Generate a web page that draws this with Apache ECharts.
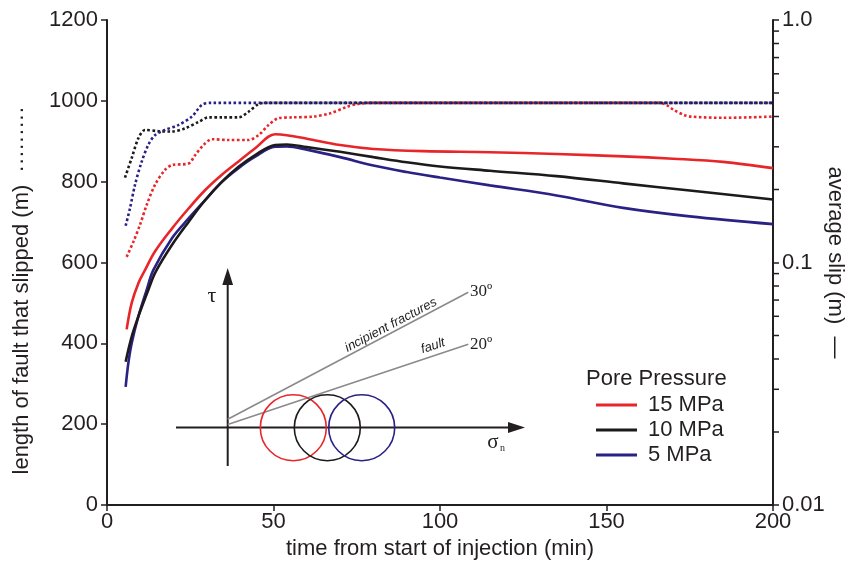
<!DOCTYPE html>
<html>
<head>
<meta charset="utf-8">
<script src="https://cdn.jsdelivr.net/npm/echarts@6/dist/echarts.min.js"></script>
<style>html,body{margin:0;padding:0;background:#fff}#c{width:850px;height:564px}</style>
</head>
<body>
<div id="c"></div>
<script>
// ---- data (time in minutes) ----
const xTicks = [0, 50, 100, 150, 200];
const lengthTicks = [0, 200, 400, 600, 800, 1000, 1200];
const slipMinorTicks = [0.02,0.03,0.04,0.05,0.06,0.07,0.08,0.09,0.2,0.3,0.4,0.5,0.6,0.7,0.8,0.9];

// average slip (m), solid curves
const slipT15 = [5.9, 7.4, 9.4, 11.4, 14.4, 19.5, 24.5, 29.5, 34.5, 39.5, 44.5, 50.5, 54, 60, 70, 80, 95, 115, 135, 155, 170, 185, 200];
const slip15  = [0.053, 0.068, 0.082, 0.093, 0.111, 0.138, 0.167, 0.199, 0.230, 0.261, 0.296, 0.338, 0.335, 0.324, 0.305, 0.294, 0.288, 0.285, 0.280, 0.274, 0.268, 0.260, 0.245];
const slipT10 = [5.6, 7.4, 9.4, 12.4, 14.6, 19.5, 24.5, 29.5, 34.5, 39.5, 44.5, 50.5, 54, 60, 70, 80, 90, 100, 115, 135, 155, 175, 200];
const slip10  = [0.039, 0.0494, 0.0598, 0.077, 0.0914, 0.118, 0.147, 0.181, 0.215, 0.248, 0.2775, 0.305, 0.3066, 0.299, 0.286, 0.272, 0.259, 0.249, 0.239, 0.227, 0.212, 0.198, 0.182];
const slipT5  = [5.6, 6.4, 7.4, 9.4, 11.9, 13.9, 19.5, 24.5, 29.5, 34.5, 39.5, 44.5, 50.5, 54, 60, 70, 80, 90, 100, 115, 135, 155, 175, 200];
const slip5   = [0.0307, 0.0384, 0.0464, 0.0598, 0.077, 0.093, 0.126, 0.152, 0.181, 0.215, 0.245, 0.273, 0.300, 0.301, 0.292, 0.272, 0.251, 0.236, 0.224, 0.208, 0.189, 0.168, 0.155, 0.144];

// length of fault that slipped (m), dotted curves
const lenT15 = [5.9, 7.9, 9.9, 11.9, 14.4, 17.4, 19.5, 24.5, 26.5, 29, 31.5, 36.5, 42.5, 45.5, 48.5, 51.5, 55.5, 62, 67, 72, 75, 80, 166, 168, 170.3, 173.3, 175.3, 185, 200];
const len15  = [614, 651, 693, 742, 792, 829, 841, 845, 866, 891, 905, 903, 903, 915, 940, 957, 959, 961, 969, 985, 992, 995, 995, 990, 977, 965, 961, 958, 961];
const lenT10 = [5.4, 7.4, 9.4, 11.4, 15.4, 19.5, 23.5, 27.5, 30.5, 34.5, 39.5, 42.5, 45.5, 48, 200];
const len10  = [810, 858, 907, 928, 925, 924, 932, 948, 959, 959, 959, 973, 992, 995, 995];
const lenT5  = [5.6, 6.9, 8.4, 10.4, 12.4, 14.4, 17.4, 21.4, 25.5, 28.5, 31, 200];
const len5   = [691, 734, 792, 849, 891, 915, 928, 940, 961, 990, 995, 995];

const names = ['15 MPa', '10 MPa', '5 MPa'];
const colors = ['#e8262a', '#1c1a1b', '#2a2185'];

const zip = (a, b) => a.map((t, i) => [t, b[i]]);
const FONT = 'Liberation Sans, Arial, sans-serif';
const SERIF = 'Liberation Serif, DejaVu Serif, serif';
const AX = '#231f20';
const FS = 22;

const slipSets = [zip(slipT15, slip15), zip(slipT10, slip10), zip(slipT5, slip5)];
const lenSets = [zip(lenT15, len15), zip(lenT10, len10), zip(lenT5, len5)];

const series = [];
lenSets.forEach((d, i) => series.push({
  name: names[i] + ' length', type: 'line', xAxisIndex: 0, yAxisIndex: 0, data: d,
  showSymbol: false, smooth: 0.3,
  lineStyle: { color: colors[i], width: 2.6, type: [2.6, 2.4] }, z: 3
}));
slipSets.forEach((d, i) => series.unshift({
  name: names[i], type: 'line', xAxisIndex: 0, yAxisIndex: 1, data: d,
  showSymbol: false, smooth: 0.35, color: colors[i],
  lineStyle: { color: colors[i], width: 2.6 }, z: 4
}));
series.push({
  type: 'custom', xAxisIndex: 0, yAxisIndex: 1, silent: true, clip: false,
  data: slipMinorTicks.map(v => [xTicks[xTicks.length - 1], v]),
  renderItem: (params, api) => {
    const p = api.coord([api.value(0), api.value(1)]);
    return { type: 'line', shape: { x1: p[0], y1: p[1], x2: p[0] + 6, y2: p[1] },
             style: { stroke: AX, lineWidth: 1.5 } };
  }
});

// inset schematic (Mohr diagram)
const gray = '#8a8a8a';
const graphic = [
  { type: 'line', shape: { x1: 227.7, y1: 282, x2: 227.7, y2: 466 }, style: { stroke: AX, lineWidth: 2 } },
  { type: 'polygon', shape: { points: [[227.7, 268], [222.3, 285], [233.1, 285]] }, style: { fill: AX } },
  { type: 'line', shape: { x1: 176, y1: 427.5, x2: 510, y2: 427.5 }, style: { stroke: AX, lineWidth: 2 } },
  { type: 'polygon', shape: { points: [[525, 427.5], [508, 422], [508, 433]] }, style: { fill: AX } },
  { type: 'line', shape: { x1: 227.7, y1: 419.3, x2: 468.3, y2: 292.3 }, style: { stroke: gray, lineWidth: 1.6 } },
  { type: 'line', shape: { x1: 227.7, y1: 424.5, x2: 468.3, y2: 344.3 }, style: { stroke: gray, lineWidth: 1.6 } },
  { type: 'circle', shape: { cx: 293.3, cy: 427.7, r: 33 }, style: { stroke: colors[0], fill: null, lineWidth: 1.6 } },
  { type: 'circle', shape: { cx: 327.3, cy: 427.7, r: 33 }, style: { stroke: colors[1], fill: null, lineWidth: 1.6 } },
  { type: 'circle', shape: { cx: 361.7, cy: 427.7, r: 33 }, style: { stroke: colors[2], fill: null, lineWidth: 1.6 } },
  { type: 'text', x: 212, y: 296, style: { text: 'τ', font: '22px ' + SERIF, fill: AX, align: 'center', verticalAlign: 'middle' } },
  { type: 'text', x: 470, y: 292, style: { text: '30º', font: '17px ' + SERIF, fill: AX, align: 'left', verticalAlign: 'middle' } },
  { type: 'text', x: 470, y: 345, style: { text: '20º', font: '17px ' + SERIF, fill: AX, align: 'left', verticalAlign: 'middle' } },
  { type: 'text', x: 493, y: 442, style: { text: 'σ', font: '21px ' + SERIF, fill: AX, align: 'center', verticalAlign: 'middle' } },
  { type: 'text', x: 500, y: 448, style: { text: 'n', font: '10px ' + SERIF, fill: AX, align: 'left', verticalAlign: 'middle' } },
  { type: 'text', x: 391, y: 325, rotation: 0.485, style: { text: 'incipient fractures', font: 'italic 13px ' + FONT, fill: AX, align: 'center', verticalAlign: 'middle' } },
  { type: 'text', x: 433, y: 346, rotation: 0.32, style: { text: 'fault', font: 'italic 13px ' + FONT, fill: AX, align: 'center', verticalAlign: 'middle' } },
  { type: 'text', x: 586, y: 379, style: { text: 'Pore Pressure', font: FS + 'px ' + FONT, fill: AX, align: 'left', verticalAlign: 'middle' } }
];

const chart = echarts.init(document.getElementById('c'), null, { renderer: 'canvas' });
chart.setOption({
  animation: false,
  backgroundColor: '#fff',
  textStyle: { fontFamily: FONT },
  grid: { left: 107, right: 77, top: 20, bottom: 59, containLabel: false, outerBoundsMode: 'none' },
  legend: {
    data: names, orient: 'vertical', left: 596, top: 394, itemWidth: 41, itemHeight: 3, itemGap: 3,
    icon: 'rect', padding: 0, selectedMode: false,
    textStyle: { fontSize: FS, color: AX, fontFamily: FONT, padding: [0, 0, 0, 6] }
  },
  xAxis: [{
    type: 'value', min: xTicks[0], max: xTicks[xTicks.length - 1], interval: 50,
    name: 'time from start of injection (min)', nameLocation: 'middle', nameGap: 33, nameMoveOverlap: false,
    nameTextStyle: { fontSize: FS, color: AX, fontFamily: FONT },
    axisLine: { show: true, onZero: false, lineStyle: { color: AX, width: 2 } },
    axisTick: { show: true, length: 6, lineStyle: { color: AX, width: 1.5 } },
    axisLabel: { fontSize: FS, color: AX, margin: 6, fontFamily: FONT, formatter: v => String(v) },
    splitLine: { show: false }
  }],
  yAxis: [{
    type: 'value', position: 'left', min: lengthTicks[0], max: lengthTicks[lengthTicks.length - 1], interval: 200,
    name: 'length of fault that slipped (m)  ·········', nameLocation: 'middle', nameGap: 74, nameMoveOverlap: false,
    nameTextStyle: { fontSize: FS, color: AX, fontFamily: FONT, padding: [0, 56, 0, 0] },
    axisLine: { show: true, onZero: false, lineStyle: { color: AX, width: 2 } },
    axisTick: { show: true, length: 6, lineStyle: { color: AX, width: 1.5 } },
    axisLabel: { fontSize: FS, color: AX, margin: 9, fontFamily: FONT, formatter: v => String(v) },
    splitLine: { show: false }
  }, {
    type: 'log', position: 'right', min: 0.01, max: 1, logBase: 10,
    name: 'average slip (m)  —', nameLocation: 'middle', nameGap: 51, nameRotate: -90, nameMoveOverlap: false,
    nameTextStyle: { fontSize: FS, color: AX, fontFamily: FONT },
    axisLine: { show: true, onZero: false, lineStyle: { color: AX, width: 2 } },
    axisTick: { show: true, length: 6, lineStyle: { color: AX, width: 1.5 } },
    axisLabel: { fontSize: FS, color: AX, margin: 9, fontFamily: FONT,
      formatter: v => (v > 0.5 ? '1.0' : (v > 0.05 ? '0.1' : '0.01')) },
    splitLine: { show: false }, minorTick: { show: false }
  }],
  series: series,
  graphic: graphic
});
</script>
</body>
</html>
